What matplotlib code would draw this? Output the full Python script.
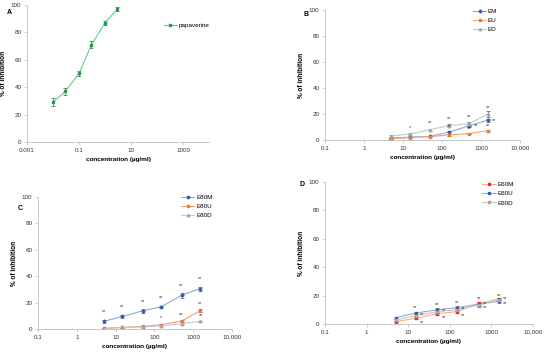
import matplotlib.pyplot as plt
from matplotlib.ticker import FixedLocator, NullLocator

plt.rcParams['font.family'] = ['Liberation Sans', 'DejaVu Sans']

# Panel A - papaverine
conc_a = [0.01, 0.03, 0.1, 0.3, 1, 3]
papaverine = [29, 37, 50, 71, 87, 97]
papaverine_err = [3, 2.5, 1.5, 2.5, 1.5, 1.5]

# Panels B-D share the same concentrations
conc = [5, 15, 50, 150, 500, 1500]

# Panel B
em = [1.5, 2.2, 2.8, 6, 11, 15.3]
eu = [1, 1.8, 2.5, 4, 4.9, 7.2]
ed = [3, 4.6, 8, 11, 12.6, 20]
em_err = [0.5, 0.5, 0.5, 1, 1, 1.2]
eu_err = [0.5, 0.5, 0.5, 0.6, 0.6, 0.8]
ed_err = [0.6, 0.6, 0.8, 1.2, 1, 2]
em_star = ['', '', '', '**', '**', '**']
eu_star = ['', '', '', '', '**', '**']
ed_star = ['', '*', '**', '**', '**', '**']

# Panel C
e80m = [5.8, 9.5, 13.8, 16.8, 25.5, 30.6]
e80u = [0.5, 1.2, 2, 3.3, 6, 13.8]
e80d = [0.3, 1, 1.5, 2.5, 4, 5.8]
e80m_err = [1, 1, 1.5, 0.8, 2, 1.5]
e80u_err = [0.3, 0.4, 0.5, 0.6, 1, 1]
e80d_err = [0.3, 0.4, 0.5, 0.5, 0.8, 0.6]
e80m_star = ['**', '**', '**', '**', '**', '**']
e80u_star = ['', '', '', '*', '**', '**']
e80d_star = ['', '', '', '', '', '**']

# Panel D
e60m = [1.6, 4, 7.3, 8.7, 14.5, 17.6]
e60u = [4.4, 7.7, 10, 11.5, 14, 16]
e60d = [2.8, 5.9, 8.7, 10, 13.3, 17]
e60m_err = [0.5, 0.8, 0.8, 1, 1, 1]
e60u_err = [0.6, 0.8, 1, 1, 1, 1.2]
e60d_err = [0.5, 0.8, 0.8, 1, 1, 1]
e60m_star = ['', '**', '**', '**', '**', '**']
e60u_star = ['', '**', '**', '**', '**', '**']
e60d_star = ['', '**', '**', '**', '**', '**']

ticks_a = [0.001, 0.1, 10, 1000]
ticklabels_a = ['0.001', '0.1', '10', '1000']
ticks_bcd = [0.1, 1, 10, 100, 1000, 10000]
ticklabels_bcd = ['0.1', '1', '10', '100', '1000', '10,000']

W, H = 550, 352
fig = plt.figure(figsize=(W / 100, H / 100), dpi=100)


def make_axes(left, right, top, bottom):
    return fig.add_axes([left / W, 1 - bottom / H, (right - left) / W, (bottom - top) / H])


def style(ax, xlim, ticks, labels):
    ax.set_xscale('log')
    ax.set_xlim(*xlim)
    ax.set_ylim(0, 100)
    ax.xaxis.set_major_locator(FixedLocator(ticks))
    ax.xaxis.set_minor_locator(NullLocator())
    ax.set_xticklabels(labels)
    ax.set_yticks([0, 20, 40, 60, 80, 100])
    for s in ['top', 'right']:
        ax.spines[s].set_visible(False)
    for s in ['left', 'bottom']:
        ax.spines[s].set_color('#bfbfbf')
        ax.spines[s].set_linewidth(0.6)
    ax.tick_params(length=2, width=0.5, color='#bfbfbf', labelsize=4.5,
                   labelcolor='#333333', pad=2)
    ax.set_xlabel('concentration (µg/ml)', fontsize=4.6, fontweight='bold', labelpad=3)
    ax.set_ylabel('% of inhibition', fontsize=4.7, fontweight='bold', labelpad=3)
    ax.patch.set_alpha(0)


def series(ax, x, y, err, line_c, mark_c, marker, label, ms=1.8):
    ax.errorbar(x, y, yerr=err, fmt='none', ecolor='#555555', elinewidth=0.5,
                capsize=1.2, capthick=0.5)
    ax.plot(x, y, color=line_c, lw=0.8, marker=marker, ms=ms,
            mfc=mark_c, mec=mark_c, label=label)


def stars(ax, x, y, marks, dx=0, dy=4, ha='center'):
    for xi, yi, m in zip(x, y, marks):
        if m:
            ax.annotate(m, (xi, yi), xytext=(dx, dy), textcoords='offset points',
                        fontsize=4, ha=ha, va='center', color='#333333')


def legend(ax, x, y):
    ax.legend(loc='upper left', bbox_to_anchor=(x, y), frameon=False, fontsize=4.5,
              handlelength=2.1, labelspacing=0.6, handletextpad=0.3)


# A
ax = make_axes(27, 209, 5, 142)
style(ax, (0.001, 10000), ticks_a, ticklabels_a)
series(ax, conc_a, papaverine, papaverine_err, '#5fd08a', '#1e9e4a', 's', 'papaverine', ms=1.6)
legend(ax, 0.72, 0.91)
fig.text(7 / W, 1 - 13 / H, 'A', fontsize=5, fontweight='bold', va='center')

# B
ax = make_axes(325, 520, 10, 140)
style(ax, (0.1, 10000), ticks_bcd, ticklabels_bcd)
series(ax, conc, em, em_err, '#8eaadb', '#2f5cb8', 'D', 'EM', ms=1.5)
series(ax, conc, eu, eu_err, '#f4a070', '#ed7d31', 's', 'EU')
series(ax, conc, ed, ed_err, '#c8c8c8', '#a5a5a5', '^', 'ED')
stars(ax, conc, ed, ed_star, dy=5)
stars(ax, conc[3:4], em[3:4], em_star[3:4], dy=4)
stars(ax, conc[4:], em[4:], em_star[4:], dx=3, dy=0, ha='left')
stars(ax, conc, eu, eu_star, dy=4)
legend(ax, 0.73, 1.055)
fig.text(303 / W, 1 - 15 / H, 'B', fontsize=5, fontweight='bold', va='center')

# C
ax = make_axes(38, 232, 197, 329)
style(ax, (0.1, 10000), ticks_bcd, ticklabels_bcd)
series(ax, conc, e80m, e80m_err, '#8eaadb', '#2f5cb8', 'D', 'E80M', ms=1.5)
series(ax, conc, e80u, e80u_err, '#f4a070', '#ed7d31', 's', 'E80U')
series(ax, conc, e80d, e80d_err, '#c8c8c8', '#a5a5a5', '^', 'E80D')
stars(ax, conc, e80m, e80m_star, dy=7)
stars(ax, conc, e80u, e80u_star, dy=5)
stars(ax, conc, e80d, e80d_star, dx=1, dy=4)
legend(ax, 0.71, 1.06)
fig.text(18 / W, 1 - 208 / H, 'C', fontsize=5, fontweight='bold', va='center')

# D
ax = make_axes(325, 533, 182, 324)
style(ax, (0.1, 10000), ticks_bcd, ticklabels_bcd)
series(ax, conc, e60m, e60m_err, '#f4b183', '#ff2020', 's', 'E60M')
series(ax, conc, e60u, e60u_err, '#8eaadb', '#2f5cb8', 's', 'E60U')
series(ax, conc, e60d, e60d_err, '#c8c8c8', '#a5a5a5', 's', 'E60D')
stars(ax, conc, e60u, e60u_star, dy=4)
stars(ax, conc, e60d, e60d_star, dx=3, dy=1, ha='left')
stars(ax, conc, e60m, e60m_star, dx=3, dy=-3, ha='left')
legend(ax, 0.73, 1.04)
fig.text(300 / W, 1 - 185 / H, 'D', fontsize=5, fontweight='bold', va='center')

fig.savefig('out.png', dpi=100)
